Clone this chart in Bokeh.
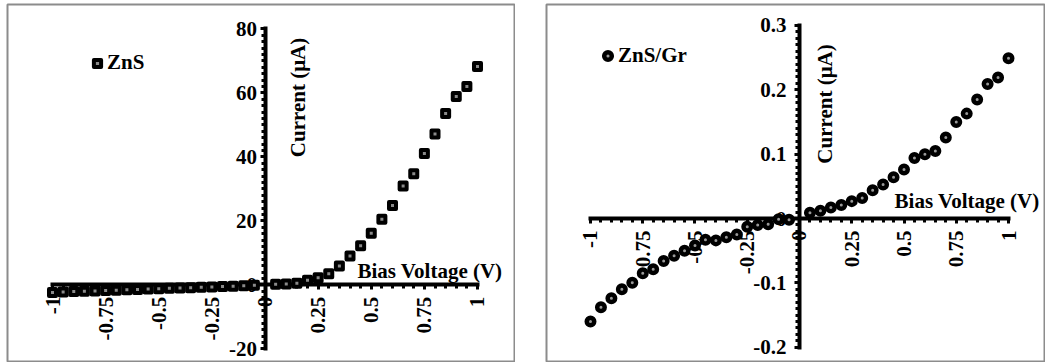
from math import pi
from bokeh.plotting import figure
from bokeh.layouts import row
from bokeh.models import FixedTicker, Label, Legend, LegendItem, ColumnDataSource
from bokeh.embed import file_html
from bokeh.resources import INLINE

# ---------------- data ----------------
voltage = [-1.0, -0.95, -0.9, -0.85, -0.8, -0.75, -0.7, -0.65, -0.6, -0.55,
           -0.5, -0.45, -0.4, -0.35, -0.3, -0.25, -0.2, -0.15, -0.1, -0.05,
           0.05, 0.1, 0.15, 0.2, 0.25, 0.3, 0.35, 0.4, 0.45, 0.5,
           0.55, 0.6, 0.65, 0.7, 0.75, 0.8, 0.85, 0.9, 0.95, 1.0]

zns_current = [-2.4, -2.2, -2.1, -2.0, -1.9, -1.75, -1.65, -1.55, -1.45, -1.3,
               -1.2, -1.1, -1.0, -0.9, -0.75, -0.65, -0.5, -0.4, -0.3, -0.15,
               0.2, 0.3, 0.5, 1.4, 2.2, 3.5, 5.9, 9.0, 12.2, 16.1,
               20.5, 24.8, 30.9, 34.7, 41.1, 47.2, 53.6, 58.9, 62.0, 68.3]

znsgr_current = [-0.160, -0.138, -0.124, -0.110, -0.100, -0.085, -0.079, -0.066, -0.058, -0.050,
                 -0.042, -0.033, -0.034, -0.029, -0.025, -0.013, -0.010, -0.009, -0.001, -0.002,
                 0.009, 0.012, 0.017, 0.021, 0.027, 0.032, 0.044, 0.053, 0.064, 0.076,
                 0.094, 0.100, 0.105, 0.126, 0.150, 0.163, 0.185, 0.209, 0.219, 0.249]

x_ticks = [-1, -0.75, -0.5, -0.25, 0, 0.25, 0.5, 0.75, 1]
x_tick_labels = ["-1", "-0.75", "-0.5", "-0.25", "0", "0.25", "0.5", "0.75", "1"]
zns_y_ticks = [-20, 0, 20, 40, 60, 80]
zns_y_labels = ["-20", "0", "20", "40", "60", "80"]
znsgr_y_ticks = [-0.2, -0.1, 0, 0.1, 0.2, 0.3]
znsgr_y_labels = ["-0.2", "-0.1", "0", "0.1", "0.2", "0.3"]

x_title = "Bias Voltage (V)"
y_title = "Current (\u03bcA)"

FONT = "Liberation Serif"
FSIZE = "21px"


def style_axes(p, xminor, yminor, xt, xl, yt, yl, ystand):
    p.xgrid.visible = False
    p.ygrid.visible = False
    p.outline_line_color = "#8c8c8c"
    p.outline_line_width = 2
    xa = p.xaxis[0]
    ya = p.yaxis[0]
    xa.fixed_location = 0
    ya.fixed_location = 0
    xa.bounds = (xt[0], xt[-1])
    ya.bounds = (yt[0], yt[-1])
    xa.ticker = FixedTicker(ticks=xt, minor_ticks=xminor)
    ya.ticker = FixedTicker(ticks=yt, minor_ticks=yminor)
    xa.major_label_overrides = {t: s for t, s in zip(xt, xl)}
    ya.major_label_overrides = {t: s for t, s in zip(yt, yl)}
    xa.major_label_orientation = pi / 2
    for ax in (xa, ya):
        ax.axis_line_width = 4
        ax.axis_line_color = "black"
        ax.axis_line_cap = "square"
        ax.major_tick_line_width = 3
        ax.major_tick_line_color = "black"
        ax.major_tick_out = 5
        ax.major_tick_in = 0
        ax.minor_tick_line_width = 3
        ax.minor_tick_line_color = "black"
        ax.minor_tick_out = 4
        ax.minor_tick_in = 0
        ax.major_label_text_font = FONT
        ax.major_label_text_font_style = "bold"
        ax.major_label_text_font_size = FSIZE
        ax.major_label_text_color = "black"
    xa.major_label_standoff = 7
    ya.major_label_standoff = ystand


def add_titles(p, ctx, cty, bx, by):
    p.add_layout(Label(x=ctx, y=cty, text=y_title, angle=pi / 2, text_align="center",
                       text_baseline="middle", text_font=FONT, text_font_style="bold",
                       text_font_size=FSIZE, text_color="black"))
    p.add_layout(Label(x=bx, y=by, text=x_title, text_align="left",
                       text_baseline="middle", text_font=FONT, text_font_style="bold",
                       text_font_size=FSIZE, text_color="black"))


# ---------------- left panel: ZnS ----------------
src1 = ColumnDataSource(dict(v=voltage, i=zns_current))
p1 = figure(width=515, height=362, x_range=(-1.2118, 1.1788), y_range=(-24.28, 87.66),
            output_backend="svg", toolbar_location=None,
            min_border_left=7, min_border_top=4, min_border_right=0, min_border_bottom=0)
style_axes(p1, [round(-1 + 0.05 * k, 2) for k in range(41)], [-20 + 2 * k for k in range(51)],
           x_ticks, x_tick_labels, zns_y_ticks, zns_y_labels, 3)
r1 = p1.scatter(x="v", y="i", source=src1, marker="square", size=7, fill_color="#8a8a8a",
                line_color="black", line_width=4, line_join="round", level="annotation")
add_titles(p1, 0.153, 58.6, 0.435, 4.47)
leg1 = Legend(items=[LegendItem(label="ZnS", renderers=[r1])], location=(81, 287),
              padding=0, margin=0, spacing=0, glyph_width=18, glyph_height=18, label_height=18,
              label_standoff=1, border_line_color=None, background_fill_alpha=0,
              label_text_font=FONT, label_text_font_style="bold", label_text_font_size=FSIZE,
              label_text_color="black")
p1.add_layout(leg1)

# ---------------- right panel: ZnS/Gr ----------------
src2 = ColumnDataSource(dict(v=voltage, i=znsgr_current))
p2 = figure(width=530, height=362, x_range=(-1.2105, 1.177), y_range=(-0.2238, 0.3326),
            output_backend="svg", toolbar_location=None,
            min_border_left=31, min_border_top=4, min_border_right=0, min_border_bottom=0)
style_axes(p2, [round(-1 + 0.05 * k, 2) for k in range(41)], [round(-0.2 + 0.01 * k, 3) for k in range(51)],
           x_ticks, x_tick_labels, znsgr_y_ticks, znsgr_y_labels, 8)
r2 = p2.scatter(x="v", y="i", source=src2, marker="circle", size=7.5, fill_color="#9a9a9a",
                line_color="black", line_width=4.5, level="annotation")
add_titles(p2, 0.124, 0.178, 0.455, 0.027)
leg2 = Legend(items=[LegendItem(label="ZnS/Gr", renderers=[r2])], location=(52, 294),
              padding=0, margin=0, spacing=0, glyph_width=19, glyph_height=19, label_height=19,
              label_standoff=1, border_line_color=None, background_fill_alpha=0,
              label_text_font=FONT, label_text_font_style="bold", label_text_font_size=FSIZE,
              label_text_color="black")
p2.add_layout(leg2)

layout = row(p1, p2, spacing=0)
open("out.html", "w").write(file_html(layout, INLINE))
